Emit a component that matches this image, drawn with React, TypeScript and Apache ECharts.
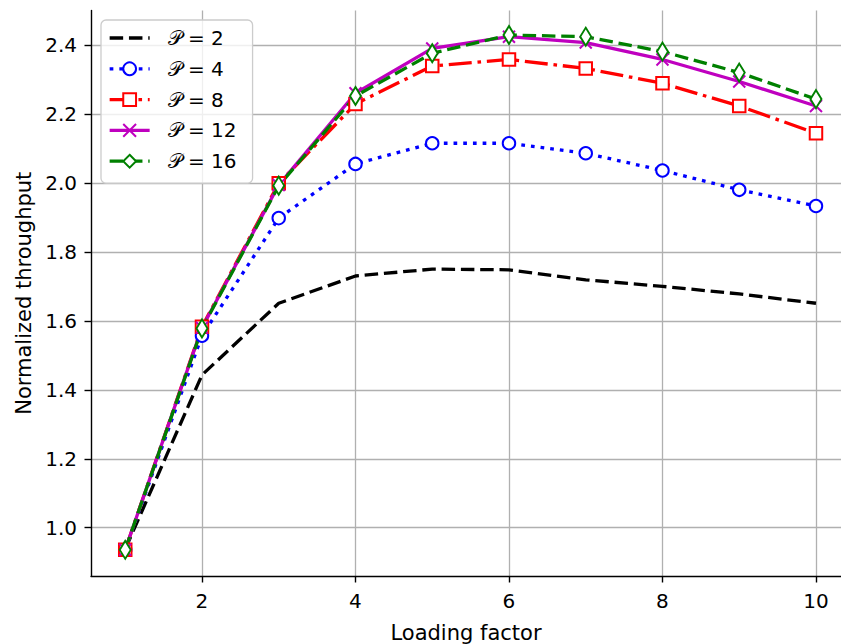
import React, { useEffect, useRef } from "react";
import * as echarts from "echarts";

const loadingFactor = [1, 2, 3, 4, 5, 6, 7, 8, 9, 10];
const p2 = [0.938, 1.443, 1.651, 1.730, 1.750, 1.748, 1.719, 1.700, 1.678, 1.651];
const p4 = [0.936, 1.557, 1.898, 2.055, 2.115, 2.115, 2.086, 2.036, 1.980, 1.933];
const p8 = [0.936, 1.583, 1.999, 2.229, 2.339, 2.358, 2.332, 2.289, 2.223, 2.144];
const p12 = [0.936, 1.580, 1.994, 2.260, 2.390, 2.424, 2.407, 2.358, 2.294, 2.223];
const p16 = [0.936, 1.578, 1.992, 2.252, 2.376, 2.429, 2.424, 2.381, 2.320, 2.243];
const seriesNames = ["𝒫 = 2", "𝒫 = 4", "𝒫 = 8", "𝒫 = 12", "𝒫 = 16"];
const xTicks = [2, 4, 6, 8, 10];
const yTicks = [1.0, 1.2, 1.4, 1.6, 1.8, 2.0, 2.2, 2.4];

const FONT = "DejaVu Sans";

function pairs(vals: number[]) {
  return loadingFactor.map((x, i) => [x, vals[i]]);
}

export default function App() {
  const ref = useRef<HTMLDivElement>(null);
  useEffect(() => {
    if (!ref.current) return;
    const chart = echarts.init(ref.current, undefined, { renderer: "svg" });
    const lw = 3.3;
    const dash = [13.5, 5.8];
    chart.setOption({
      animation: false,
      backgroundColor: "#ffffff",
      textStyle: { fontFamily: FONT },
      grid: { left: 91, top: 10.5, width: 750, height: 565.5, containLabel: false, outerBoundsMode: "none" },
      xAxis: {
        type: "value",
        min: 0.554,
        max: 10.326,
        name: "Loading factor",
        nameLocation: "middle",
        nameGap: 46,
        nameTextStyle: { fontSize: 21, color: "#000", fontFamily: FONT },
        axisLine: { onZero: false, lineStyle: { color: "#000", width: 1.4 } },
        axisTick: { show: true, length: 6.5, inside: false, customValues: xTicks, lineStyle: { color: "#000", width: 1.4 } },
        axisLabel: { customValues: xTicks, fontSize: 20, color: "#000", margin: 15, fontFamily: FONT, formatter: (v: number) => String(v) },
        splitLine: { show: true, lineStyle: { color: "#b0b0b0", width: 1.3 } },
      },
      yAxis: {
        type: "value",
        min: 0.86,
        max: 2.5,
        name: "Normalized throughput",
        nameLocation: "middle",
        nameGap: 57,
        nameTextStyle: { fontSize: 21, color: "#000", fontFamily: FONT },
        axisLine: { onZero: false, lineStyle: { color: "#000", width: 1.4 } },
        axisTick: { show: true, length: 6.5, inside: false, customValues: yTicks, lineStyle: { color: "#000", width: 1.4 } },
        axisLabel: { customValues: yTicks, fontSize: 20, color: "#000", margin: 14, fontFamily: FONT, formatter: (v: number) => v.toFixed(1) },
        splitLine: { show: true, lineStyle: { color: "#b0b0b0", width: 1.3 } },
      },
      legend: {
        orient: "vertical",
        left: 101,
        top: 20,
        padding: [8, 16, 12, 7],
        itemWidth: 40,
        itemHeight: 16,
        itemGap: 10.8,
        backgroundColor: "rgba(255,255,255,0.8)",
        borderColor: "#cccccc",
        borderWidth: 1.3,
        borderRadius: 5,
        lineStyle: { width: lw },
        textStyle: { fontSize: 20, color: "#000", fontFamily: FONT, padding: [0, 0, 0, 13] },
        data: [
          { name: seriesNames[0], itemStyle: { color: "rgba(0,0,0,0)", borderColor: "rgba(0,0,0,0)", borderWidth: 0 } },
          seriesNames[1],
          seriesNames[2],
          seriesNames[3],
          seriesNames[4],
        ],
      },
      series: [
        {
          name: seriesNames[0],
          type: "line",
          data: pairs(p2),
          showSymbol: false,
          symbol: "none",
          lineStyle: { color: "#000000", width: lw, type: dash, cap: "butt" },
          itemStyle: { color: "#000000" },
        },
        {
          name: seriesNames[1],
          type: "line",
          data: pairs(p4),
          symbol: "circle",
          symbolSize: 12.5,
          lineStyle: { color: "#0000ff", width: lw, type: [3.7, 6], cap: "butt" },
          itemStyle: { color: "#ffffff", borderColor: "#0000ff", borderWidth: 2 },
        },
        {
          name: seriesNames[2],
          type: "line",
          data: pairs(p8),
          symbol: "rect",
          symbolSize: 12.5,
          lineStyle: { color: "#ff0000", width: lw, type: [23, 5.8, 3.6, 5.8], cap: "butt" },
          itemStyle: { color: "#ffffff", borderColor: "#ff0000", borderWidth: 2 },
        },
        {
          name: seriesNames[3],
          type: "line",
          data: pairs(p12),
          symbol: "path://M0,0L10,10M10,0L0,10",
          symbolSize: 12,
          lineStyle: { color: "#bf00bf", width: lw },
          itemStyle: { color: "none", borderColor: "#bf00bf", borderWidth: 2 },
        },
        {
          name: seriesNames[4],
          type: "line",
          data: pairs(p16),
          symbol: "diamond",
          symbolSize: [11, 18],
          lineStyle: { color: "#008000", width: lw, type: dash, cap: "butt" },
          itemStyle: { color: "#ffffff", borderColor: "#008000", borderWidth: 2 },
        },
      ],
    });
    return () => chart.dispose();
  }, []);
  return (
    <div
      ref={ref}
      style={{ position: "fixed", left: 0, top: 0, width: 841, height: 644, background: "#fff" }}
    />
  );
}
